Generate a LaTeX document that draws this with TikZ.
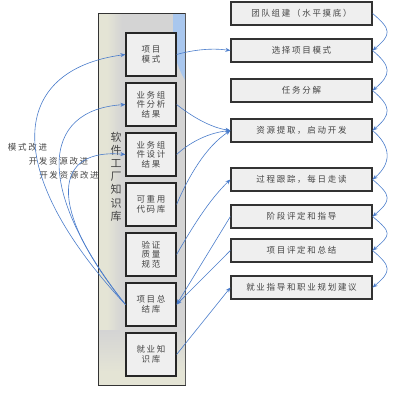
\documentclass[tikz,border=0pt]{standalone}
\usepackage{fontspec}
\newfontfamily\cjk[LetterSpace=20]{Noto Sans CJK SC}
\newfontfamily\cjkv{Noto Sans CJK SC}
\usetikzlibrary{arrows.meta}
\definecolor{arr}{HTML}{4A7CCB}
\definecolor{boxfill}{HTML}{EFEFEF}
\definecolor{beige}{HTML}{E4E4D5}
\definecolor{panelgray}{HTML}{D4D4D4}
\definecolor{paneblue}{HTML}{A9C7EE}
\definecolor{txt}{HTML}{444444}
\begin{document}
\begin{tikzpicture}[x=1pt,y=-1pt,
  lbox/.style={draw=black!85, line width=1.2pt, fill=boxfill, minimum width=50pt, minimum height=43pt, inner sep=0pt, align=center, font=\cjk\fontsize{8.5}{9.5}\selectfont, text=txt},
  rbox/.style={draw=black!80, line width=1.2pt, fill=boxfill, minimum width=141pt, minimum height=23pt, inner sep=0pt, font=\cjk\fontsize{8.5}{9}\selectfont, text=txt},
  lbl/.style={inner sep=0pt, font=\cjk\fontsize{8.5}{9}\selectfont, text=txt},
  con/.style={draw=arr, line width=0.6pt, -{Stealth[length=5pt,width=4pt]}}]
\useasboundingbox (0,0) rectangle (418,400);
% container
\fill[panelgray] (98,13) rectangle (185,385);
\fill[beige] (98,13) rectangle (107,385);
\shade[left color=beige, right color=panelgray] (107,13) rectangle (122,385);
\shade[top color=panelgray, bottom color=beige] (98,330) rectangle (185,372);
\fill[beige] (98,372) rectangle (185,385);
\fill[paneblue] (173,13) -- (185,13) -- (185,80) .. controls (176,65) and (173,50) .. (173,35) -- cycle;
\draw[black!80, line width=0.8pt] (98,13) rectangle (185,385);
\draw[black!65, line width=1.6pt] (185.5,13) -- (185.5,385);
\node[font=\cjkv\fontsize{11}{13.2}\selectfont, align=center, text=txt, inner sep=0pt] (title) at (116,176.5) {软\\件\\工\\厂\\知\\识\\库};
% left boxes
\node[lbox] (b1) at (151,54.5) {项目\\模式};
\node[lbox] (b2) at (151,104.5) {业务组\\件分析\\结果};
\node[lbox] (b3) at (151,154.5) {业务组\\件设计\\结果};
\node[lbox] (b4) at (151,204.5) {可重用\\代码库};
\node[lbox] (b5) at (151,254.5) {验证\\质量\\规范};
\node[lbox] (b6) at (151,304.5) {项目总\\结库};
\node[lbox] (b7) at (151,354.5) {就业知\\识库};
% right boxes
\node[rbox] (r1) at (301.5,13.5) {团队组建（水平摸底）};
\node[rbox] (r2) at (301.5,50.5) {选择项目模式};
\node[rbox] (r3) at (301.5,90.5) {任务分解};
\node[rbox] (r4) at (301.5,130.5) {资源提取，启动开发};
\node[rbox] (r5) at (301.5,179.5) {过程跟踪，每日走读};
\node[rbox] (r6) at (301.5,216.5) {阶段评定和指导};
\node[rbox] (r7) at (301.5,250.5) {项目评定和总结};
\node[rbox] (r8) at (301.5,287.5) {就业指导和职业规划建议};
% left labels
\node[lbl] (m1) at (27.5,147) {模式改进};
\node[lbl] (m2) at (58.5,161.5) {开发资源改进};
\node[lbl] (m3) at (69,175.5) {开发资源改进};
% feedback curves
\draw[con] (b6.west) .. controls (0,170) and (10,70) .. (b1.west);
\draw[con] (b6.west) .. controls (35,190) and (40,110) .. (b2.west);
\draw[con] (b6.west) .. controls (45,205) and (55,148) .. (b3.west);
% left to right
\draw[con] (b1.east) .. controls +(18,-5) and +(-18,-2.5) .. (r2.west);
\draw[con] (b2.east) .. controls +(15.7,12.3) and +(-19.8,-3) .. (r4.west);
\draw[con] (b3.east) .. controls +(14.7,-13.6) and +(-19.9,2) .. (r4.west);
\draw[con] (b4.east) .. controls +(11.7,-27.6) and +(-25,16.6) .. (r4.west);
\draw[con] (b5.east) .. controls +(15,-26) and +(-21.6,20.7) .. (r5.west);
\draw[con] (r6.west) -- (b6.east);
\draw[con] (r7.west) -- (b6.east);
\draw[con] (b7.east) -- (r8.west);
% chain
\foreach \a/\b in {r1/r2,r2/r3,r3/r4,r4/r5,r5/r6,r6/r7,r7/r8}
  \draw[con] (\a.east) .. controls +(19,16) and +(19,-16) .. (\b.east);
\end{tikzpicture}
\end{document}
